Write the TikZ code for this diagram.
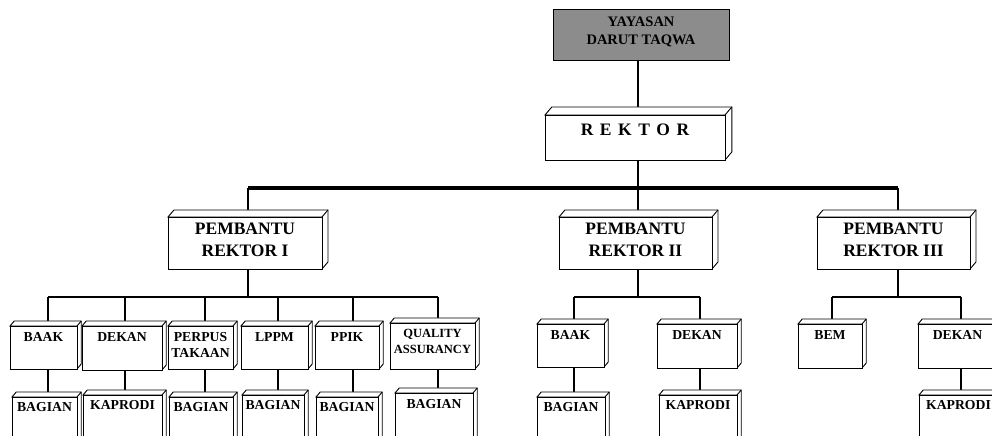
\documentclass[tikz,border=0pt]{standalone}
\usepackage{fontspec}
\setmainfont{Liberation Serif}
\usetikzlibrary{backgrounds}
\definecolor{yaygray}{RGB}{140,140,140}
\tikzset{
  face/.style={draw=black, fill=white, line width=0.9bp, line join=miter},
  conn/.style={draw=black, line width=2.4bp},
  busline/.style={draw=black, line width=3.6bp},
  lbl/.style={inner sep=0pt, align=center, font=\bfseries\fontsize{13.7bp}{16bp}\selectfont},
  lblbig/.style={font=\bfseries\fontsize{17.5bp}{22bp}\selectfont},
  lblqa/.style={font=\bfseries\fontsize{12.5bp}{16bp}\selectfont},
}
% #1 name, #2 x1, #3 y1, #4 x2, #5 y2, #6 depth, #7 label style, #8 text centre y, #9 text
\newcommand\cubebox[9]{%
  \pgfmathsetmacro\cdx{0.85*#6}%
  \draw[face] (#2,#3) -- ++(\cdx,-#6) -- ({#4+\cdx},{#3-#6}) -- ({#4+\cdx},{#5-#6}) -- (#4,#5) -- (#4,#3) -- cycle;
  \draw[face] (#4,#3) -- ++(\cdx,-#6);
  \node[face, inner sep=0pt, anchor=north west, minimum width={(#4-#2)*1bp}, minimum height={(#5-#3)*1bp}] (#1) at (#2,#3) {};
  \node[lbl,#7] (#1-t) at ({(#2+#4)/2},#8) {#9};
}
\begin{document}
\begin{tikzpicture}[x=1bp,y=-1bp]
\useasboundingbox (0,0) rectangle (992,436);
\clip (0,0) rectangle (992,436);

% top
\node[draw=black, fill=yaygray, line width=1bp, inner sep=0pt, anchor=north west,
      minimum width=176bp, minimum height=51bp] (yay) at (553,9) {};
\node[lbl, font=\bfseries\fontsize{14.5bp}{18bp}\selectfont] (yay-t) at (641,32) {YAYASAN\\DARUT TAQWA};
\cubebox{rek}{545}{115}{725}{160}{8}{lblbig}{130}{\spaceskip=6.5bp\relax R E K T O R}

% pembantu rektor
\cubebox{pr1}{168}{217}{322}{269}{7}{lblbig}{240}{PEMBANTU\\REKTOR I}
\cubebox{pr2}{559}{217}{712}{269}{7}{lblbig}{240}{PEMBANTU\\REKTOR II}
\cubebox{pr3}{817}{217}{970}{269}{7}{lblbig}{240}{PEMBANTU\\REKTOR III}

% level 3, PR I
\cubebox{baak1}{10}{326}{77}{369}{5}{}{337}{BAAK}
\cubebox{dekan1}{82}{326}{162}{370}{5}{}{337}{DEKAN}
\cubebox{perpus}{168}{326}{233}{369}{5}{}{345}{PERPUS\\TAKAAN}
\cubebox{lppm}{241}{326}{308}{369}{5}{}{337}{LPPM}
\cubebox{ppik}{315}{326}{379}{369}{5}{}{337}{PPIK}
\cubebox{qa}{390}{323}{475}{369}{5}{lblqa}{341}{QUALITY\\ASSURANCY}
% level 3, PR II
\cubebox{baak2}{537}{324}{604}{367}{5}{}{335}{BAAK}
\cubebox{dekan2}{657}{324}{737}{368}{5}{}{335}{DEKAN}
% level 3, PR III
\cubebox{bem}{798}{324}{862}{368}{5}{}{335}{BEM}
\cubebox{dekan3}{918}{324}{997}{368}{5}{}{335}{DEKAN}

% level 4
\cubebox{bag1}{12}{397}{77}{450}{5}{}{407}{BAGIAN}
\cubebox{kap1}{83}{395}{162}{450}{5}{}{405}{KAPRODI}
\cubebox{bag2}{169}{397}{233}{450}{5}{}{407}{BAGIAN}
\cubebox{bag3}{242}{395}{304}{450}{5}{}{405}{BAGIAN}
\cubebox{bag4}{316}{397}{378}{450}{5}{}{407}{BAGIAN}
\cubebox{bag5}{395}{393}{473}{450}{5}{}{404}{BAGIAN}
\cubebox{bag6}{537}{397}{605}{450}{5}{}{407}{BAGIAN}
\cubebox{kap2}{659}{395}{737}{450}{5}{}{405}{KAPRODI}
\cubebox{kap3}{919}{395}{998}{450}{5}{}{405}{KAPRODI}

% coordinates
\coordinate (mbL) at (248,188);
\coordinate (mbR) at (898,188);
\coordinate (x638) at (638,0);
\coordinate (x48) at (48,0);
\coordinate (x125) at (125,0);
\coordinate (x205) at (205,0);
\coordinate (x278) at (278,0);
\coordinate (x353) at (353,0);
\coordinate (x438) at (438,0);
\coordinate (x574) at (574,0);
\coordinate (x700) at (700,0);
\coordinate (x832) at (832,0);
\coordinate (x961) at (961,0);
\coordinate (sb) at (0,297);

\begin{pgfonlayer}{background}
  \draw[conn] (yay.south -| x638) -- (rek.north -| x638);
  \draw[conn] (rek.south -| x638) -- (x638 |- mbL);
  \draw[busline] (mbL) -- (mbR);
  \draw[conn] (mbL) -- (pr1.north -| mbL);
  \draw[conn] (x638 |- mbL) -- (pr2.north -| x638);
  \draw[conn] (mbR) -- (pr3.north -| mbR);
  % sub buses
  \draw[conn] (pr1.south -| mbL) -- (mbL |- sb);
  \draw[conn] (x48 |- sb) -- (x438 |- sb);
  \draw[conn] (pr2.south -| x638) -- (x638 |- sb);
  \draw[conn] (x574 |- sb) -- (x700 |- sb);
  \draw[conn] (pr3.south -| mbR) -- (mbR |- sb);
  \draw[conn] (x832 |- sb) -- (x961 |- sb);
  % drops to level 3
  \draw[conn] (x48 |- sb) -- (baak1.north -| x48);
  \draw[conn] (x125 |- sb) -- (dekan1.north -| x125);
  \draw[conn] (x205 |- sb) -- (perpus.north -| x205);
  \draw[conn] (x278 |- sb) -- (lppm.north -| x278);
  \draw[conn] (x353 |- sb) -- (ppik.north -| x353);
  \draw[conn] (x438 |- sb) -- (qa.north -| x438);
  \draw[conn] (x574 |- sb) -- (baak2.north -| x574);
  \draw[conn] (x700 |- sb) -- (dekan2.north -| x700);
  \draw[conn] (x832 |- sb) -- (bem.north -| x832);
  \draw[conn] (x961 |- sb) -- (dekan3.north -| x961);
  % drops to level 4
  \draw[conn] (baak1.south -| x48) -- (bag1.north -| x48);
  \draw[conn] (dekan1.south -| x125) -- (kap1.north -| x125);
  \draw[conn] (perpus.south -| x205) -- (bag2.north -| x205);
  \draw[conn] (lppm.south -| x278) -- (bag3.north -| x278);
  \draw[conn] (ppik.south -| x353) -- (bag4.north -| x353);
  \draw[conn] (qa.south -| x438) -- (bag5.north -| x438);
  \draw[conn] (baak2.south -| x574) -- (bag6.north -| x574);
  \draw[conn] (dekan2.south -| x700) -- (kap2.north -| x700);
  \draw[conn] (dekan3.south -| x961) -- (kap3.north -| x961);
\end{pgfonlayer}
\end{tikzpicture}
\end{document}
